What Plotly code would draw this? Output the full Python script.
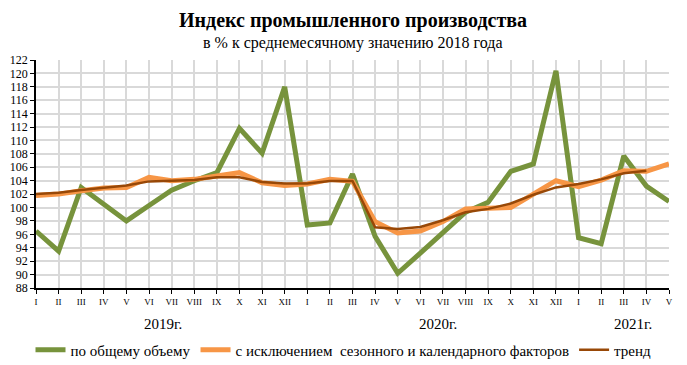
import plotly.graph_objects as go

months = ["I","II","III","IV","V","VI","VII","VIII","IX","X","XI","XII",
          "I","II","III","IV","V","VI","VII","VIII","IX","X","XI","XII",
          "I","II","III","IV","V"]
years = ["2019г.", "2020г.", "2021г."]
year_pos = [5.6, 17.8, 26.4]

total = [96.5, 93.5, 103.0, 100.5, 98.0, 100.3, 102.6, 104.0, 105.2, 111.8, 108.1, 118.0,
         97.4, 97.7, 105.0, 95.7, 90.2, 93.2, 96.2, 99.3, 100.8, 105.4, 106.5, 120.4,
         95.5, 94.6, 107.7, 103.2, 100.9]
seasonal = [101.8, 102.0, 102.5, 102.9, 103.0, 104.5, 104.0, 104.2, 104.7, 105.2, 103.7, 103.3,
            103.5, 104.2, 103.9, 97.9, 96.2, 96.5, 97.9, 99.8, 99.9, 100.0, 102.0, 104.0,
            103.1, 104.1, 105.5, 105.4, 106.5]
trend = [102.0, 102.2, 102.6, 103.0, 103.3, 103.9, 104.0, 104.1, 104.5, 104.5, 103.8, 103.6,
         103.6, 103.95, 103.95, 97.05, 96.8, 97.1, 98.1, 99.3, 99.8, 100.6, 101.9, 103.0,
         103.5, 104.2, 105.1, 105.5, None]

x = list(range(len(months)))
serif = "Liberation Serif, Times New Roman, serif"

fig = go.Figure()
fig.add_trace(go.Scatter(x=x, y=total, mode="lines", name="по общему объему",
                         line=dict(color="#77933C", width=5)))
fig.add_trace(go.Scatter(x=x, y=seasonal, mode="lines", name="с исключением  сезонного и календарного факторов",
                         line=dict(color="#F79646", width=5)))
fig.add_trace(go.Scatter(x=x, y=trend, mode="lines", name="тренд",
                         line=dict(color="#984807", width=2.5)))

fig.update_layout(
    width=687, height=365,
    margin=dict(l=36, r=18, t=60, b=77, autoexpand=False),
    plot_bgcolor="white", paper_bgcolor="white",
    font=dict(family=serif, color="black", size=13),
    showlegend=True,
    legend=dict(orientation="h", x=0.5, xanchor="center", xref="container",
                y=1 - 350 / 365, yanchor="middle", yref="container",
                font=dict(size=15, family=serif), tracegroupgap=0,
                bgcolor="rgba(0,0,0,0)"),
    xaxis=dict(range=[0, 28], tickmode="array", tickvals=x, ticktext=months,
               showgrid=True, gridcolor="#D9D9D9", gridwidth=1.5,
               showline=True, linecolor="black", linewidth=1.5,
               ticks="outside", ticklen=4, tickcolor="black", automargin=False,
               tickfont=dict(size=9, family=serif), zeroline=False),
    yaxis=dict(range=[88, 122], dtick=2, tick0=88,
               showgrid=True, gridcolor="#D9D9D9", gridwidth=1.5,
               showline=True, linecolor="black", linewidth=1.5,
               ticks="outside", ticklen=4, tickcolor="black", automargin=False,
               tickfont=dict(size=12, family=serif), zeroline=False),
)

anns = [
    dict(text="<b>Индекс промышленного производства</b>", x=0.5, xref="paper",
         y=1, yref="paper", yanchor="middle", yshift=40, showarrow=False,
         font=dict(size=20, family=serif)),
    dict(text="в % к среднемесячному значению 2018 года", x=0.5, xref="paper",
         y=1, yref="paper", yanchor="middle", yshift=17, showarrow=False,
         font=dict(size=16, family=serif)),
]
for yr, p in zip(years, year_pos):
    anns.append(dict(text=yr, x=p, xref="x", y=0, yref="paper", yanchor="middle",
                     yshift=-36, showarrow=False, font=dict(size=15, family=serif)))
fig.update_layout(annotations=anns)

fig.write_html("out.html", config={"displayModeBar": False},
               post_script="document.body.style.margin='0';")
